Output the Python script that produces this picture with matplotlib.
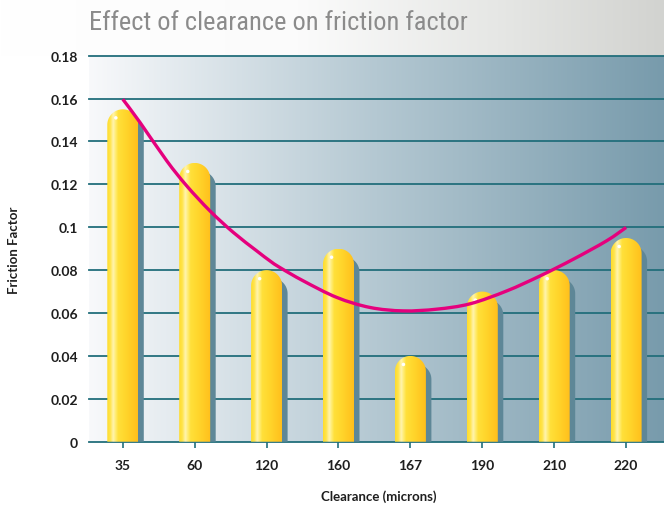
import numpy as np
import matplotlib
matplotlib.use("Agg")
import matplotlib.pyplot as plt
from matplotlib.path import Path
from matplotlib.patches import PathPatch, Ellipse
from matplotlib.colors import LinearSegmentedColormap
from matplotlib import font_manager

# ---------------- data ----------------
categories = ["35", "60", "120", "160", "167", "190", "210", "220"]
friction = [0.155, 0.13, 0.08, 0.09, 0.04, 0.07, 0.08, 0.095]

# trend curve (x in category positions)
curve_x = [0.0, 0.239, 0.611, 0.889, 1.213, 1.537, 1.862, 2.047, 2.186, 2.510,
           2.975, 3.438, 3.901, 4.366, 4.829, 5.339, 5.803, 6.266, 6.730, 7.0]
curve_y = [0.1597, 0.1489, 0.1310, 0.1193, 0.1076, 0.0976, 0.0890, 0.0843, 0.0812, 0.0750,
           0.0673, 0.0626, 0.0610, 0.0618, 0.0643, 0.0703, 0.0773, 0.0851, 0.0937, 0.0999]

yticks = [0, 0.02, 0.04, 0.06, 0.08, 0.1, 0.12, 0.14, 0.16, 0.18]
ytick_labels = ["0", "0.02", "0.04", "0.06", "0.08", "0.1", "0.12", "0.14", "0.16", "0.18"]

title = "Effect of clearance on friction factor"
xlabel = "Clearance (microns)"
ylabel = "Friction Factor"

# pick a narrow font for the title if one is installed
names = {f.name for f in font_manager.fontManager.ttflist}
title_kw = dict(family=["Roboto", "DejaVu Sans"], fontweight="light")
for cand in ["Liberation Sans Narrow", "Roboto Condensed", "Open Sans Condensed",
             "DejaVu Sans Condensed", "Noto Sans Condensed"]:
    if cand in names:
        title_kw = dict(family=[cand, "DejaVu Sans"])
        break
else:
    cond = [f for f in font_manager.fontManager.ttflist
            if f.name in ("DejaVu Sans", "Noto Sans", "Open Sans") and str(f.stretch) in ("condensed", "semi-condensed", "extra-condensed", "375", "300")]
    if cond:
        title_kw = dict(family=[cond[0].name, "DejaVu Sans"], fontstretch="condensed")

# ---------------- figure ----------------
W, H = 664, 510
fig = plt.figure(figsize=(W / 100, H / 100), dpi=100)
fig.patch.set_facecolor("white")

# title strip gradient
top_ax = fig.add_axes([0, 1 - 56.7 / H, 1, 56.7 / H])
top_ax.set_axis_off()
tcmap = LinearSegmentedColormap.from_list("t", [(0, "#ffffff"), (0.45, "#fbfbfb"), (0.75, "#e6e7e5"), (1.0, "#d2d3d0")])
top_ax.imshow(np.linspace(0, 1, 256)[None, :], cmap=tcmap, aspect="auto", extent=[0, 1, 0, 1])
top_ax.set_xlim(0, 1)
top_ax.set_ylim(0, 1)

left = 89 / W
bottom = (H - 442.7) / H
top = (H - 56.7) / H
ax = fig.add_axes([left, bottom, 1 - left, top - bottom])
xmin, xmax = -0.47, 7.527
ax.set_xlim(xmin, xmax)
ax.set_ylim(0, 0.18)

# background gradient
bcmap = LinearSegmentedColormap.from_list("b", [(0, "#f8f9fb"), (0.5, "#b4c8d2"), (1.0, "#789bac")])
ax.imshow(np.linspace(0, 1, 256)[None, :], cmap=bcmap, aspect="auto",
          extent=[xmin, xmax, 0, 0.18], zorder=0)

# grid lines
for yt in yticks:
    ax.axhline(yt, color="#226e7b", lw=1.3, zorder=1, clip_on=False)

# scale factors (px per data unit)
p0 = ax.transData.transform((0, 0))
p1 = ax.transData.transform((1, 1))
sx = p1[0] - p0[0]
sy = p1[1] - p0[1]

hw = 15.5 / sx          # half bar width in data units
ry = 15.5 / sy          # cap radius in y data units


def capsule(xc, v, dx=0.0, dy=0.0):
    t = np.linspace(np.pi, 0, 40)
    cx = xc + dx
    top_c = v + dy - ry
    verts = [(cx - hw, 0)]
    verts += [(cx - hw, top_c)]
    verts += [(cx + hw * np.cos(a), top_c + ry * np.sin(a)) for a in t]
    verts += [(cx + hw, 0), (cx - hw, 0)]
    codes = [Path.MOVETO] + [Path.LINETO] * (len(verts) - 2) + [Path.CLOSEPOLY]
    return Path(verts, codes)


barcmap = LinearSegmentedColormap.from_list("bar", [
    (0.0, "#ffdc2c"), (0.1, "#ffe44a"), (0.2, "#fff4b0"), (0.27, "#ffed78"),
    (0.36, "#ffe03a"), (0.6, "#ffd62c"), (1.0, "#ffbf1c")])

shadow_dx = 5.5 / sx
shadow_dy = -8 / sy
for i, v in enumerate(friction):
    sp = PathPatch(capsule(i, v, shadow_dx, shadow_dy), facecolor="#5e8797", edgecolor="none", zorder=2)
    ax.add_patch(sp)
    bp = PathPatch(capsule(i, v), facecolor="none", edgecolor="none", zorder=3)
    ax.add_patch(bp)
    im = ax.imshow(np.linspace(0, 1, 128)[None, :], cmap=barcmap, aspect="auto",
                   extent=[i - hw, i + hw, 0, v], zorder=3)
    im.set_clip_path(bp)
    ax.add_patch(Ellipse((i - hw * 0.45, v - ry * 0.55), 3.5 / sx, 3.5 / sy,
                         facecolor="white", edgecolor="none", zorder=4))

# trend curve: smooth path (Catmull-Rom -> cubic Bezier) through the read points
pts = np.column_stack([curve_x, curve_y])
verts = [tuple(pts[0])]
codes = [Path.MOVETO]
n = len(pts)
for k in range(n - 1):
    p_prev = pts[k - 1] if k > 0 else pts[k]
    p_a = pts[k]
    p_b = pts[k + 1]
    p_next = pts[k + 2] if k + 2 < n else pts[k + 1]
    c1 = p_a + (p_b - p_prev) / 6.0
    c2 = p_b - (p_next - p_a) / 6.0
    verts += [tuple(c1), tuple(c2), tuple(p_b)]
    codes += [Path.CURVE4] * 3
ax.add_patch(PathPatch(Path(verts, codes), facecolor="none", edgecolor="#e5007d",
                       lw=2.4, zorder=5, capstyle="butt"))

# axes styling
for s in ax.spines.values():
    s.set_visible(False)
ax.set_yticks(yticks)
ax.set_yticklabels(ytick_labels)
ax.set_xticks(range(len(categories)))
ax.set_xticklabels(categories)
ax.tick_params(axis="y", length=0, pad=8)
ax.tick_params(axis="x", length=4.3, width=1.2, color="#236f7c", pad=8)
for lab in ax.get_yticklabels() + ax.get_xticklabels():
    lab.set_fontfamily("Lato")
    lab.set_fontweight("bold")
    lab.set_fontsize(10)
    lab.set_color("#1e1e1e")

# title, sized to span the same width as in the reference
t = fig.text(89 / W, 1 - 23 / H, title, ha="left", va="center", fontsize=21,
             color="#8b8b8b", **title_kw)
fig.canvas.draw()
bb = t.get_window_extent()
target = 466 - 89
t.set_fontsize(21 * target / bb.width)

fig.text(379 / W, 1 - 497 / H, xlabel, ha="center", va="center", fontsize=9.5,
         fontweight="bold", family="Lato", color="#1e1e1e")
fig.text(14 / W, 1 - 250 / H, ylabel, ha="center", va="center", fontsize=9.5,
         fontweight="bold", family="Lato", color="#1e1e1e", rotation=90)

fig.savefig("out.png", dpi=100)
